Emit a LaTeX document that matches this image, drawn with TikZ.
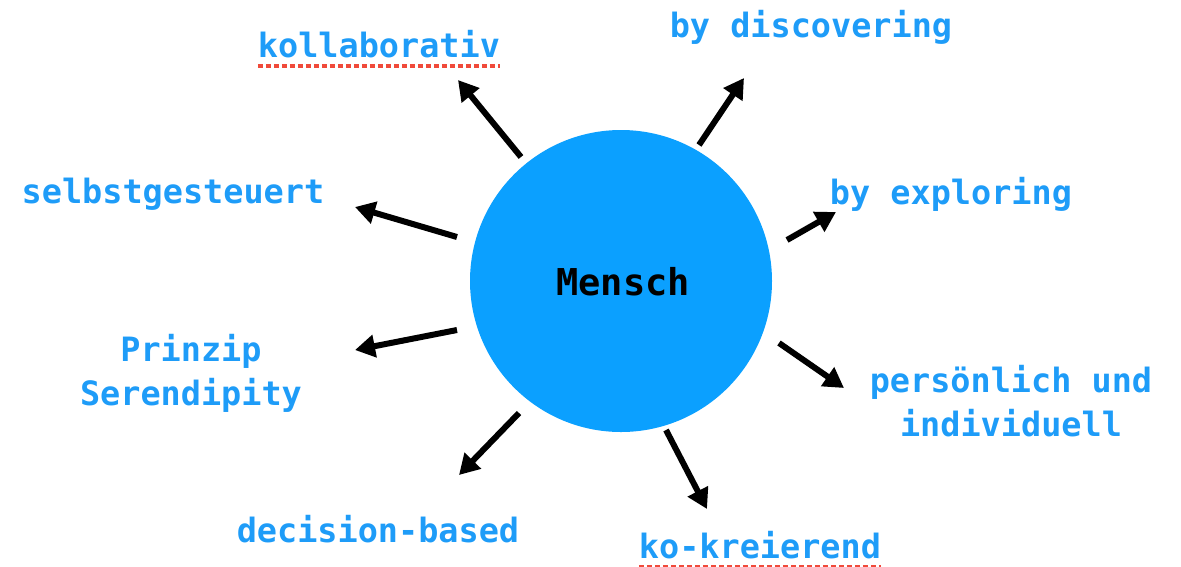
\documentclass[tikz,border=0pt]{standalone}
\usepackage{fontspec}
\setmainfont{DejaVu Sans Mono}
\usetikzlibrary{arrows.meta,calc}
\definecolor{circ}{HTML}{0BA0FF}
\definecolor{txt}{HTML}{1E9CF8}
\definecolor{spell}{HTML}{F04A3A}
\begin{document}
\begin{tikzpicture}[x=1pt,y=-1pt,
  lbl/.style={text=txt,font=\fontsize{33.5}{44}\selectfont\bfseries,inner sep=0pt,align=center},
  arr/.style={line width=6pt,-{Triangle[length=20pt,width=22pt]}},
  squig/.style={spell,line width=4pt,dash pattern=on 5pt off 3pt}]
\useasboundingbox (0,0) rectangle (1181,566);
\node[circle,fill=circ,minimum size=302pt,inner sep=0pt] (m) at (621,281) {};
\node[font=\fontsize{37}{40}\selectfont\bfseries,inner sep=0pt] (mt) at (623,282) {Mensch};
\node[lbl] (k) at (379,44) {kollaborativ};
\node[lbl] (bd) at (811,27) {by discovering};
\node[lbl] (s) at (173,194) {selbstgesteuert};
\node[lbl] (be) at (951,194) {by exploring};
\node[lbl] (p) at (191,373) {Prinzip\\Serendipity};
\node[lbl] (pi) at (1011,401) {persönlich und\\individuell};
\node[lbl] (d) at (378,529) {decision-based};
\node[lbl] (kk) at (760,545) {ko-kreierend};
\coordinate (k1) at (521,157); \coordinate (k2) at (458,80);
\coordinate (bd1) at (699,145); \coordinate (bd2) at (744,78);
\coordinate (be1) at (787,240); \coordinate (be2) at (836,212);
\coordinate (pi1) at (779,343); \coordinate (pi2) at (844,388);
\coordinate (kk1) at (666,430); \coordinate (kk2) at (707,509);
\coordinate (d1) at (519,413); \coordinate (d2) at (459,475);
\coordinate (p1) at (457,330); \coordinate (p2) at (355,350);
\coordinate (s1) at (457,237); \coordinate (s2) at (355,207);
\foreach \a in {k,bd,be,pi,kk,d,p,s} {\draw[arr] (\a1) -- (\a2);}
\draw[squig] ($(k.south west)+(0,8)$) -- ($(k.south east)+(0,8)$);
\draw[squig] ($(kk.south west)+(0,8)$) -- ($(kk.south east)+(0,8)$);
\end{tikzpicture}
\end{document}
